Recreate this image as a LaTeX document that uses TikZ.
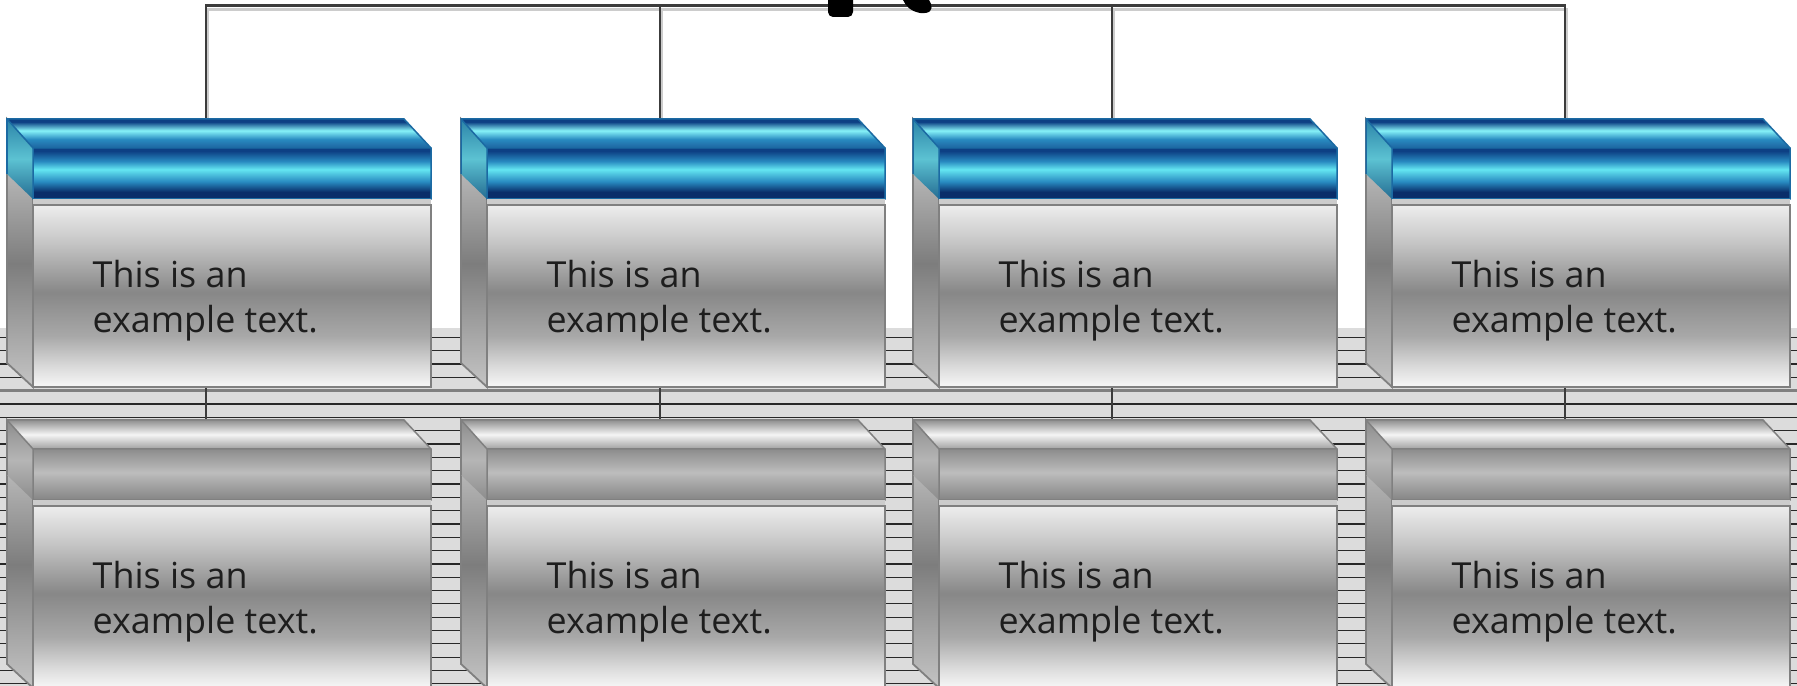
\documentclass[tikz,border=0pt]{standalone}
\usepackage{fontspec}
\setmainfont{Open Sans}
\usetikzlibrary{positioning}
\definecolor{navydeep}{RGB}{10,46,106}
\definecolor{navy}{RGB}{13,64,132}
\definecolor{navysoft}{RGB}{30,100,160}
\definecolor{bluemid}{RGB}{40,138,192}
\definecolor{cyanlight}{RGB}{100,230,242}
\definecolor{cyanpale}{RGB}{134,242,248}
\definecolor{tealdark}{RGB}{37,108,146}
\definecolor{tealmid}{RGB}{44,132,168}
\definecolor{teallight}{RGB}{92,194,210}
\definecolor{blueedge}{RGB}{27,106,163}
\definecolor{grayedge}{RGB}{128,128,128}
\definecolor{stripebg}{RGB}{220,220,220}
\definecolor{stripeline}{RGB}{40,40,40}
\definecolor{wire}{RGB}{60,60,60}
\definecolor{textgray}{RGB}{30,30,30}

% lid shadings (top row blue, bottom row gray)
\pgfdeclareverticalshading{bluetop}{100bp}{color(0bp)=(navysoft); color(25bp)=(navysoft); color(40bp)=(bluemid); color(55bp)=(cyanpale); color(70bp)=(navy); color(100bp)=(navy)}
\pgfdeclareverticalshading{blueband}{100bp}{color(0bp)=(navydeep); color(25bp)=(navydeep); color(32bp)=(navydeep); color(42bp)=(bluemid); color(54bp)=(cyanlight); color(62bp)=(bluemid); color(72bp)=(navy); color(100bp)=(navy)}
\pgfdeclareverticalshading{blueside}{100bp}{color(0bp)=(tealdark); color(25bp)=(tealdark); color(50bp)=(teallight); color(75bp)=(tealmid); color(100bp)=(tealmid)}
\pgfdeclareverticalshading{graytop}{100bp}{color(0bp)=(black!37); color(25bp)=(black!37); color(50bp)=(black!4); color(75bp)=(black!44); color(100bp)=(black!44)}
\pgfdeclareverticalshading{grayband}{100bp}{color(0bp)=(black!48); color(25bp)=(black!48); color(52bp)=(black!26); color(75bp)=(black!45); color(100bp)=(black!45)}
\pgfdeclareverticalshading{grayside}{100bp}{color(0bp)=(black!45); color(25bp)=(black!45); color(50bp)=(black!29); color(75bp)=(black!45); color(100bp)=(black!45)}
% body shadings
\pgfdeclareverticalshading{metal}{100bp}{color(0bp)=(black!3); color(25bp)=(black!3); color(30bp)=(black!13); color(39bp)=(black!34); color(51bp)=(black!47); color(65bp)=(black!22); color(75bp)=(black!7); color(100bp)=(black!7)}
\pgfdeclareverticalshading{metalside}{100bp}{color(0bp)=(black!23); color(25bp)=(black!23); color(48bp)=(black!51); color(75bp)=(black!15); color(100bp)=(black!15)}

\pgfdeclarelayer{back}
\pgfsetlayers{back,main}

\tikzset{
  stripe/.style={draw=stripeline, line width=0.012cm},
  conn/.style={draw=wire, line width=0.022cm},
  connshade/.style={draw=black!20, line width=0.022cm, transform canvas={shift={(0.015cm,-0.04cm)}}},
  body/.style={rectangle, shading=metal, draw=grayedge, line width=0.018cm,
    minimum width=3.98cm, minimum height=1.82cm, inner sep=0pt},
  caption/.style={inner sep=0pt, align=left, text=textgray,
    font=\fontsize{10.2pt}{12.8pt}\selectfont},
}

\begin{document}
\begin{tikzpicture}[x=0.01cm, y=-0.01cm]
  \clip (0,0) rectangle (1797,686);
  \begin{pgfonlayer}{back}
    \fill[stripebg] (0,328) rectangle (1797,686);
    \foreach \k in {0,...,26}
      \draw[stripe] (0,{337.3+13.33*\k}) -- (1797,{337.3+13.33*\k});
    \draw[stripe, draw=grayedge, line width=0.025cm] (0,390.7) -- (1797,390.7);
  \end{pgfonlayer}

  % boxes: t = top row, b = bottom row
  \foreach \row/\by/\topsh/\bandsh/\sidesh/\edge in
      {t/119/bluetop/blueband/blueside/blueedge, b/420/graytop/grayband/grayside/grayedge}{
    \foreach \i/\bx in {1/7,2/461,3/913,4/1366}{
      \begin{scope}[shift={(\bx,\by)}]
        \shade[shading=metalside, draw=grayedge, line width=0.018cm]
          (0,0) -- (26,29) -- (26,268) -- (0,244) -- cycle;
        \shade[shading=\sidesh] (0,0) -- (26,29) -- (26,80) -- (0,55) -- cycle;
        \shade[shading=\topsh] (0,0) -- (397,0) -- (424,29) -- (26,29) -- cycle;
        \shade[shading=\bandsh] (26,29) rectangle (424,80);
        \draw[draw=\edge, line width=0.015cm]
          (0,55) -- (0,0) -- (397,0) -- (424,29) -- (424,80) -- (26,80) -- (26,29) -- (0,0)
          (26,29) -- (424,29);
        \fill[black!20] (26,80) rectangle (424,86);
        \node[body] (\row\i) at (225,177) {};
        \node[caption, below right=0.55cm and 0.6cm of \row\i.north west] (\row\i txt)
          {This is an\\example text.};
        \coordinate (\row\i in) at (199,0);
        \coordinate (\row\i out) at (199,268);
      \end{scope}
    }
  }

  % connectors
  \coordinate (root) at (880,5.5);
  \begin{pgfonlayer}{back}
    \foreach \i in {1,...,4}
      \draw[connshade] (root) -| (t\i in);
    \foreach \i in {1,...,4}{
      \draw[conn] (root) -| (t\i in);
      \draw[conn] (t\i out) -- (b\i in);
    }
  \end{pgfonlayer}

  % cut-off marks at the top edge
  \fill[black, rounded corners=0.05cm] (828,-6) rectangle (853,17);
  \fill[black] (903,0) .. controls (906,6) and (910,11) .. (920,13)
    .. controls (930,14) and (933,10) .. (931,4) -- (929,0) -- cycle;
\end{tikzpicture}
\end{document}
